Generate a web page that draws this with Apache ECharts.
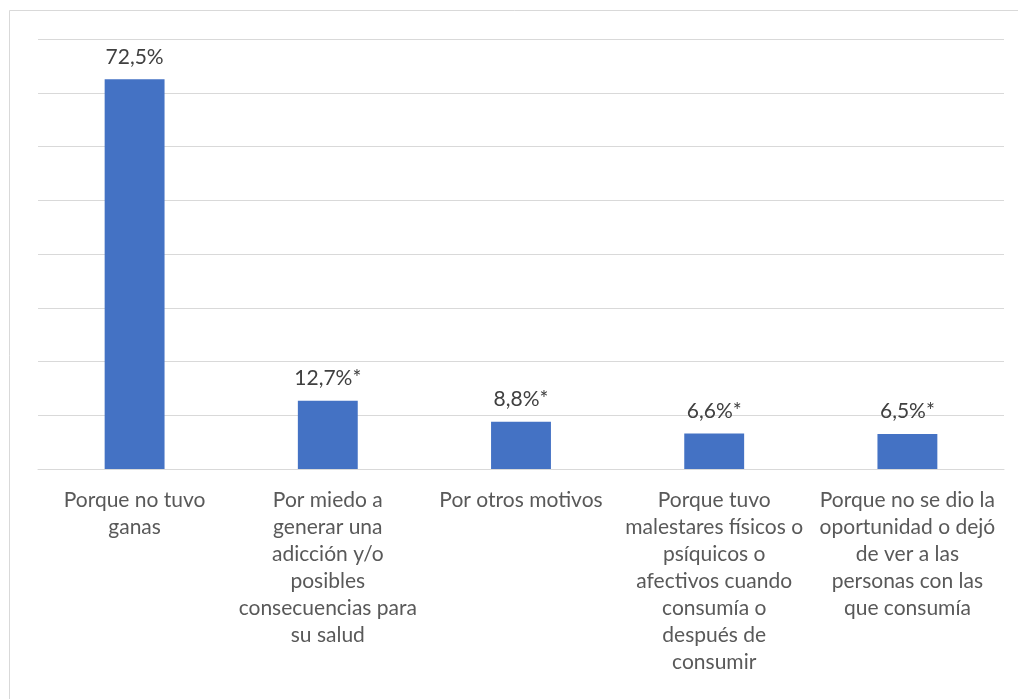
<!DOCTYPE html>
<html>
<head>
<meta charset="utf-8">
<script src="https://cdn.jsdelivr.net/npm/echarts@6/dist/echarts.min.js"></script>
<style>
  html, body { margin: 0; padding: 0; background: #ffffff; }
  #chart { width: 1018px; height: 699px; }
</style>
</head>
<body>
<div id="chart"></div>
<script>
// Motivos por los que dejó de consumir (porcentaje)
const categories = [
  'Porque no tuvo\nganas',
  'Por miedo a\ngenerar una\nadicción y/o\nposibles\nconsecuencias para\nsu salud',
  'Por otros motivos',
  'Porque tuvo\nmalestares físicos o\npsíquicos o\nafectivos cuando\nconsumía o\ndespués de\nconsumir',
  'Porque no se dio la\noportunidad o dejó\nde ver a las\npersonas con las\nque consumía'
];
const values = [72.5, 12.7, 8.8, 6.6, 6.5];
// Marca de estimación con baja precisión
const flags = ['', '*', '*', '*', '*'];

const fontFamily = 'Lato, "Open Sans", "Noto Sans", sans-serif';

const chart = echarts.init(document.getElementById('chart'), null, { renderer: 'canvas' });
chart.setOption({
  backgroundColor: '#ffffff',
  animation: false,
  graphic: [{
    type: 'rect',
    silent: true,
    shape: { x: 9.5, y: 10.5, width: 1200, height: 1000 },
    style: { fill: 'none', stroke: '#d9d9d9', lineWidth: 1 }
  }],
  grid: { left: 38, right: 14, top: 39, bottom: 230, containLabel: false },
  xAxis: {
    type: 'category',
    data: categories,
    axisLine: { show: true, lineStyle: { color: '#d9d9d9', width: 1 } },
    axisTick: { show: false },
    axisLabel: {
      interval: 0,
      margin: 18,
      color: '#595959',
      fontFamily: fontFamily,
      fontSize: 21,
      lineHeight: 27,
      align: 'center'
    }
  },
  yAxis: {
    type: 'value',
    min: 0,
    max: 80,
    interval: 10,
    axisLabel: { show: false },
    axisLine: { show: false },
    axisTick: { show: false },
    splitLine: { lineStyle: { color: '#d9d9d9', width: 1 } }
  },
  series: [{
    type: 'bar',
    data: values,
    barWidth: '31%',
    itemStyle: { color: '#4472c4' },
    label: {
      show: true,
      position: 'top',
      distance: 12,
      color: '#404040',
      fontFamily: fontFamily,
      fontSize: 21,
      formatter: p => p.value.toFixed(1).replace('.', ',') + '%' + flags[p.dataIndex]
    }
  }]
});
</script>
</body>
</html>
